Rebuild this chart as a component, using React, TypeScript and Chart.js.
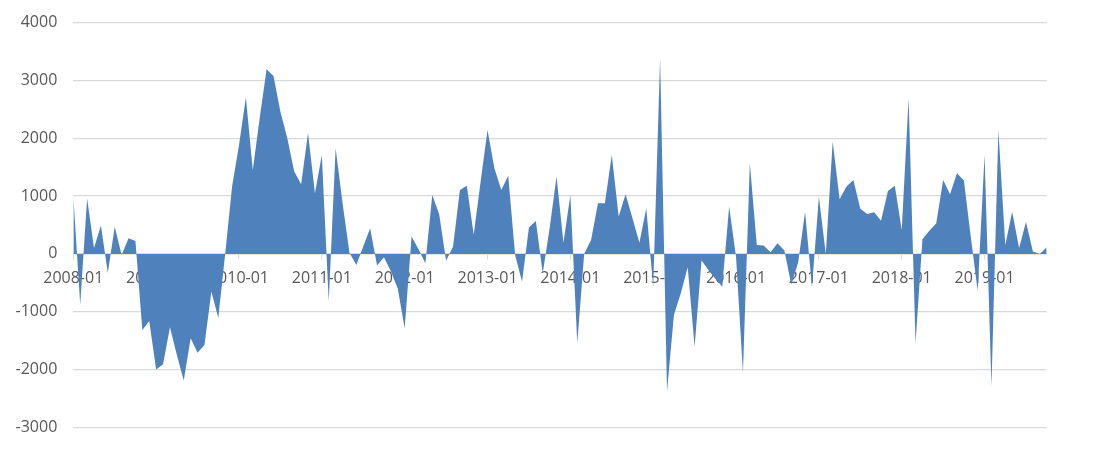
import { useEffect, useRef } from 'react';
import { Chart, registerables } from 'chart.js';

Chart.register(...registerables);

const years = ['2008', '2009', '2010', '2011', '2012', '2013', '2014', '2015', '2016', '2017', '2018', '2019'];
const monthNums = ['01', '02', '03', '04', '05', '06', '07', '08', '09', '10', '11', '12'];

const values: number[] = [
  1000, -880, 960, 100, 490, -330, 470, -20, 270, 225, -1315, -1160,
  -2000, -1910, -1270, -1750, -2190, -1460, -1710, -1575, -650, -1110, 0, 1165,
  1880, 2705, 1450, 2350, 3195, 3080, 2460, 2000, 1425, 1205, 2090, 1050,
  1710, -825, 1830, 880, 20, -190, 130, 445, -200, -60, -300, -600,
  -1285, 300, 80, -160, 1020, 685, -120, 125, 1105, 1180, 330, 1250,
  2145, 1480, 1105, 1350, -20, -480, 455, 570, -335, 450, 1340, 195,
  1020, -1545, 0, 240, 875, 875, 1710, 645, 1030, 615, 195, 790,
  -570, 3385, -2380, -1055, -680, -230, -1600, -115, -280, -430, -570, 820,
  -50, -2050, 1570, 155, 145, 30, 185, 60, -530, -150, 730, -575,
  990, 0, 1945, 945, 1165, 1280, 780, 690, 720, 575, 1090, 1180,
  415, 2690, -1545, 255, 400, 530, 1280, 1030, 1395, 1270, 300, -640,
  1710, -2295, 2145, 155, 730, 100, 550, 40, 0, 115,
];

const tickLabels = ['2008-01', '2009-01', '2010-01', '2011-01', '2012-01', '2013-01', '2014-01', '2015-01', '2016-01', '2017-01', '2018-01', '2019-01'];

const categories: string[] = years.flatMap((y) => monthNums.map((m) => `${y}-${m}`)).slice(0, values.length);

export default function App() {
  const ref = useRef<HTMLCanvasElement | null>(null);

  useEffect(() => {
    if (!ref.current) return;
    const chart = new Chart(ref.current, {
      type: 'line',
      data: {
        labels: categories,
        datasets: [
          {
            data: values,
            fill: 'origin',
            backgroundColor: '#4f81bd',
            borderWidth: 0,
            borderColor: '#4f81bd',
            pointRadius: 0,
            tension: 0,
          },
        ],
      },
      options: {
        animation: false,
        responsive: true,
        maintainAspectRatio: false,
        layout: { padding: { left: 0, top: 14.7, right: 46.3, bottom: 14.7 } },
        plugins: { legend: { display: false }, tooltip: { enabled: false } },
        scales: {
          x: {
            type: 'category',
            position: { y: 0 },
            offset: false,
            z: 1,
            border: { display: true, color: '#d9d9d9', width: 1.5 },
            grid: {
              display: true,
              drawOnChartArea: false,
              drawTicks: true,
              tickLength: 5,
              color: (ctx: any) => (tickLabels.includes(categories[ctx.index]) ? '#d9d9d9' : 'rgba(0,0,0,0)'),
            },
            ticks: {
              autoSkip: false,
              maxRotation: 0,
              minRotation: 0,
              padding: 10,
              color: '#595959',
              font: { family: '"Open Sans"', size: 16 },
              callback: (_v: any, i: number) => (tickLabels.includes(categories[i]) ? categories[i] : ''),
            },
          },
          y: {
            min: -3000,
            max: 4000,
            afterFit: (scale: any) => {
              scale.width = 65.3;
              scale.paddingTop = 0;
              scale.paddingBottom = 0;
            },
            border: { display: false },
            grid: { color: '#d9d9d9', lineWidth: 1.3, drawTicks: false },
            ticks: {
              stepSize: 1000,
              padding: 16,
              color: '#595959',
              font: { family: '"Open Sans"', size: 16 },
              callback: (v: any) => String(v),
            },
          },
        },
      },
    });
    return () => chart.destroy();
  }, []);

  return (
    <div style={{ width: 1085, height: 434 }}>
      <canvas ref={ref} />
    </div>
  );
}
